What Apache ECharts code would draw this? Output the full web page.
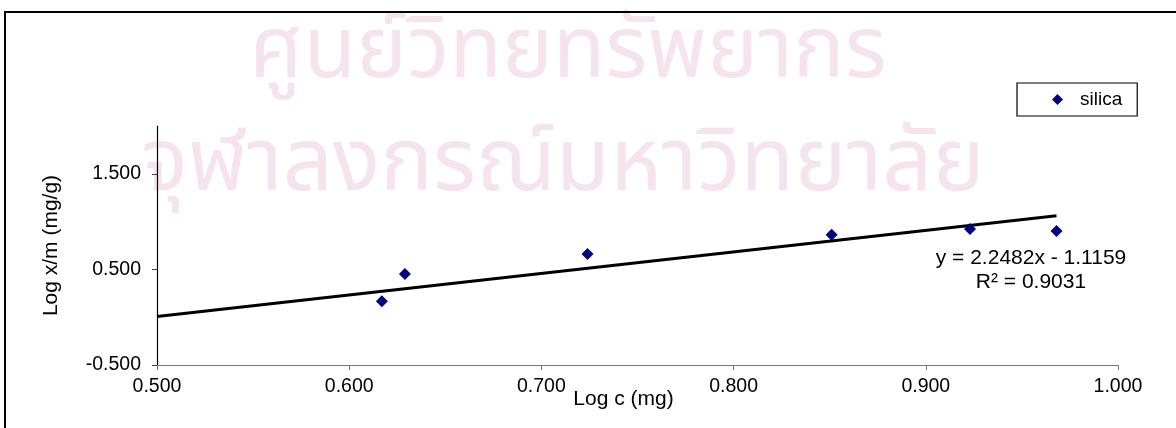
<!DOCTYPE html>
<html>
<head>
<meta charset="utf-8">
<script src="https://cdn.jsdelivr.net/npm/echarts@6/dist/echarts.min.js"></script>
<style>
  html, body { margin: 0; padding: 0; background: #fff; }
  #chart { width: 1176px; height: 428px; }
</style>
</head>
<body>
<div id="chart"></div>
<script>
// Freundlich isotherm: log of equilibrium concentration vs log of uptake
const seriesName = 'silica';
const logC  = [0.617, 0.629, 0.724, 0.851, 0.923, 0.968];
const logXm = [0.167, 0.451, 0.661, 0.863, 0.923, 0.902];

// Linear trendline as reported on the chart
const slope = 2.2482;
const intercept = -1.1159;
const rSquared = 0.9031;
const trendStartX = 0.5;

const yTickValues = [-0.5, 0.5, 1.5];
const xTickValues = [0.5, 0.6, 0.7, 0.8, 0.9, 1.0];

const points = logC.map((x, i) => [x, logXm[i]]);
const trendEndX = Math.max(...logC);
const trendLine = [trendStartX, trendEndX].map(x => [x, slope * x + intercept]);

const fontFamily = 'Arial, "Liberation Sans", sans-serif';
const thaiFont = '"Noto Sans Thai", "Noto Sans", "DejaVu Sans", sans-serif';
const eqText = 'y = ' + slope.toFixed(4) + 'x - ' + Math.abs(intercept).toFixed(4) +
               '\nR² = ' + rSquared.toFixed(4);

const chart = echarts.init(document.getElementById('chart'), null, { renderer: 'canvas' });

chart.setOption({
  animation: false,
  backgroundColor: '#ffffff',
  textStyle: { fontFamily: fontFamily },
  grid: { left: 157, right: 58, top: 126, bottom: 63, containLabel: false },
  legend: {
    data: [seriesName],
    left: 1017,
    top: 83,
    orient: 'vertical',
    padding: [7, 15, 7, 35],
    backgroundColor: '#fff',
    borderColor: '#000',
    borderWidth: 1.2,
    borderRadius: 0,
    itemWidth: 11,
    itemHeight: 11,
    icon: 'diamond',
    textStyle: { color: '#000', fontSize: 19, fontFamily: fontFamily, padding: [0, 0, 0, 12] }
  },
  xAxis: {
    type: 'value',
    min: 0.5,
    max: 1.0,
    interval: 0.1,
    name: 'Log c (mg)',
    nameLocation: 'middle',
    nameGap: 24,
    nameMoveOverlap: false,
    nameTextStyle: { color: '#000', fontSize: 21, verticalAlign: 'top', padding: [0, 28, 0, 0] },
    axisLine: { onZero: false, lineStyle: { color: '#777', width: 1.2 } },
    axisTick: { show: true, length: 5, lineStyle: { color: '#777' }, customValues: xTickValues },
    axisLabel: {
      color: '#000', fontSize: 19.5, margin: 12,
      customValues: xTickValues,
      formatter: v => v.toFixed(3)
    },
    splitLine: { show: false }
  },
  yAxis: {
    type: 'value',
    min: -0.5,
    max: 2.0,
    interval: 1,
    name: 'Log x/m (mg/g)',
    nameLocation: 'middle',
    nameGap: 95,
    nameRotate: 90,
    nameMoveOverlap: false,
    nameTextStyle: { color: '#000', fontSize: 21 },
    axisLine: { show: true, onZero: false, lineStyle: { color: '#000', width: 1.2 } },
    axisTick: { show: true, length: 5, lineStyle: { color: '#444' }, customValues: yTickValues },
    axisLabel: {
      color: '#000', fontSize: 19.5, margin: 16,
      customValues: yTickValues,
      formatter: v => v.toFixed(3)
    },
    splitLine: { show: false }
  },
  series: [
    {
      name: 'trend',
      type: 'line',
      data: trendLine,
      symbol: 'none',
      lineStyle: { color: '#000', width: 3 },
      silent: true,
      z: 2
    },
    {
      name: seriesName,
      type: 'scatter',
      data: points,
      symbol: 'diamond',
      symbolSize: 12,
      itemStyle: { color: '#000080', opacity: 1 },
      z: 3
    }
  ],
  graphic: [
    {
      type: 'text',
      z: -10,
      style: {
        text: 'ศูนย์วิทยทรัพยากร',
        x: 568, y: 60,
        align: 'center', verticalAlign: 'middle',
        fontSize: 86,
        fontFamily: thaiFont,
        fill: '#f5e3ed'
      }
    },
    {
      type: 'text',
      z: -10,
      style: {
        text: 'จุฬาลงกรณ์มหาวิทยาลัย',
        x: 563, y: 172,
        align: 'center', verticalAlign: 'middle',
        fontSize: 88,
        fontFamily: thaiFont,
        fill: '#f5e3ed'
      }
    },
    {
      type: 'text',
      style: {
        text: eqText,
        x: 1031, y: 270,
        align: 'center', verticalAlign: 'middle',
        fontSize: 21, lineHeight: 24,
        fontFamily: fontFamily,
        fill: '#000'
      }
    },
    {
      type: 'rect',
      silent: true,
      shape: { x: 5, y: 12, width: 1200, height: 450 },
      style: { fill: 'none', stroke: '#000', lineWidth: 2 }
    }
  ]
});
</script>
</body>
</html>
